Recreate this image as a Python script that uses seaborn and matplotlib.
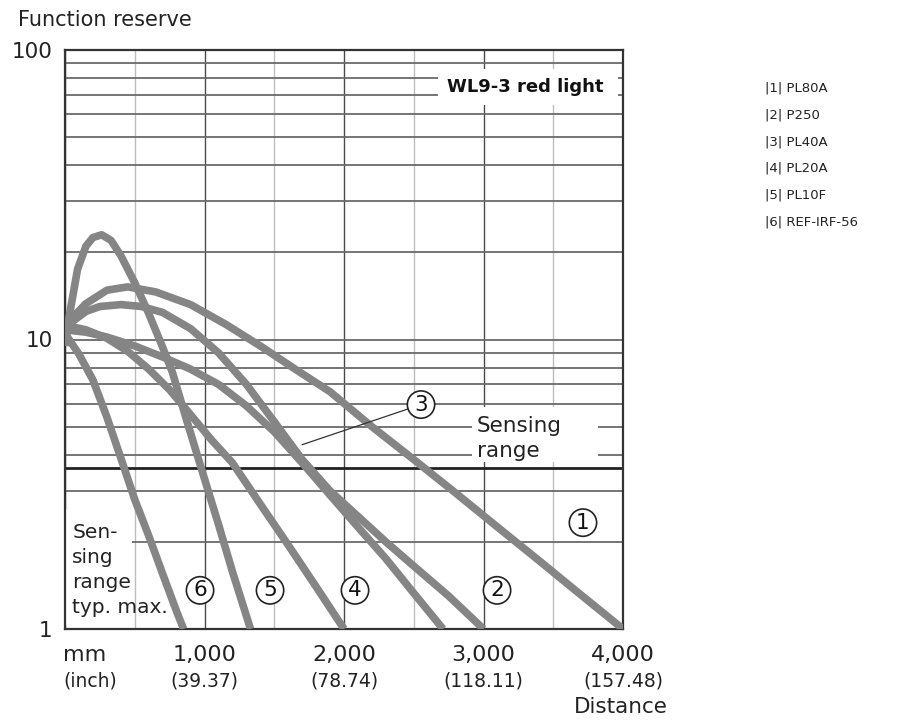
import numpy as np
import pandas as pd
import matplotlib
matplotlib.use("Agg")
import matplotlib.pyplot as plt
import seaborn as sns
from matplotlib.patches import Rectangle
from matplotlib.ticker import LogLocator, NullFormatter

# ---------------- data ----------------
series_names = ["PL80A", "P250", "PL40A", "PL20A", "PL10F", "REF-IRF-56"]
series_ids = ["1", "2", "3", "4", "5", "6"]

pl80a_x = [0, 60, 150, 300, 450, 650, 900, 1150, 1400, 1650, 1900, 2200, 2500, 2800, 3100, 3400, 3700, 4000]
pl80a_y = [11.0, 12.0, 13.3, 14.8, 15.2, 14.6, 13.2, 11.3, 9.5, 7.9, 6.6, 5.0, 3.85, 2.95, 2.25, 1.72, 1.31, 1.0]

p250_x = [0, 60, 150, 250, 400, 550, 700, 900, 1100, 1300, 1500, 1700, 1900, 2100, 2300, 2500, 2750, 3000]
p250_y = [10.5, 11.6, 12.5, 13.0, 13.2, 13.0, 12.4, 10.9, 9.0, 7.0, 5.2, 3.85, 3.0, 2.45, 2.0, 1.65, 1.3, 1.0]

pl40a_x = [0, 150, 300, 500, 700, 900, 1100, 1300, 1500, 1700, 1900, 2100, 2300, 2500, 2710]
pl40a_y = [10.8, 10.6, 10.2, 9.5, 8.7, 7.9, 7.0, 5.9, 4.8, 3.75, 2.9, 2.25, 1.75, 1.33, 1.0]

pl20a_x = [0, 150, 300, 450, 600, 750, 900, 1050, 1200, 1400, 1600, 1800, 2000]
pl20a_y = [11.2, 10.8, 10.1, 9.1, 7.9, 6.7, 5.5, 4.5, 3.75, 2.7, 1.95, 1.4, 1.0]

pl10f_x = [0, 30, 90, 150, 200, 263, 330, 400, 500, 600, 700, 770, 860, 980, 1100, 1200, 1330]
pl10f_y = [9.5, 12.0, 17.5, 21.0, 22.5, 23.0, 22.0, 19.5, 15.7, 12.3, 9.4, 7.7, 5.5, 3.55, 2.3, 1.58, 1.0]

refirf_x = [0, 100, 200, 300, 400, 500, 600, 700, 800, 850]
refirf_y = [10.5, 8.9, 7.25, 5.4, 3.9, 2.8, 2.1, 1.55, 1.15, 1.0]

sensing_range_level = 3.6

x_ticks = [0, 1000, 2000, 3000, 4000]
x_tick_mm = ["mm", "1,000", "2,000", "3,000", "4,000"]
x_tick_inch = ["(inch)", "(39.37)", "(78.74)", "(118.11)", "(157.48)"]
y_ticks = [1, 10, 100]
y_tick_labels = ["1", "10", "100"]

# circled-number label positions (distance, reserve)
label_pos_x = [3713, 3097, 2552, 2079, 1470, 968]
label_pos_y = [2.33, 1.36, 5.96, 1.36, 1.36, 1.36]

xs = [pl80a_x, p250_x, pl40a_x, pl20a_x, pl10f_x, refirf_x]
ys = [pl80a_y, p250_y, pl40a_y, pl20a_y, pl10f_y, refirf_y]
rows = []
for name, xx, yy in zip(series_names, xs, ys):
    for a, b in zip(xx, yy):
        rows.append((name, a, b))
df = pd.DataFrame(rows, columns=["series", "distance", "reserve"])

# ---------------- figure ----------------
sns.set_style("white")
plt.rcParams["font.family"] = ["DejaVu Sans"]

W, H = 897, 721
fig = plt.figure(figsize=(W / 100, H / 100), dpi=100)
ax = fig.add_axes([65 / W, 1 - 629 / H, (623 - 65) / W, (629 - 50) / H])

ax.set_yscale("log")
ax.set_xlim(0, 4000)
ax.set_ylim(1, 100)

# grid
ax.set_xticks(x_ticks)
ax.set_xticks([500, 1500, 2500, 3500], minor=True)
ax.set_xticklabels([])
ax.yaxis.set_minor_locator(LogLocator(base=10, subs=range(2, 10)))
ax.yaxis.set_minor_formatter(NullFormatter())
ax.set_yticks(y_ticks)
ax.set_yticklabels(y_tick_labels, fontsize=15.5, color="#222222")
ax.tick_params(which="both", length=0)
ax.tick_params(axis="y", pad=9)
ax.xaxis.grid(True, which="major", color="#4a4a4a", lw=1.0)
ax.xaxis.grid(True, which="minor", color="#bdbdbd", lw=1.0)
ax.yaxis.grid(True, which="both", color="#6a6a6a", lw=1.3)
ax.set_axisbelow(True)
for s in ax.spines.values():
    s.set_color("#333333")
    s.set_linewidth(1.6)

# curves
palette = {n: "#858585" for n in series_names}
sns.lineplot(data=df, x="distance", y="reserve", hue="series", palette=palette,
             estimator=None, sort=False, lw=5.5, legend=False, ax=ax, zorder=3)
for ln in ax.lines:
    ln.set_solid_capstyle("butt")
    ln.set_solid_joinstyle("round")
ax.set_xlabel("")
ax.set_ylabel("")

# sensing range line
ax.axhline(sensing_range_level, color="#222222", lw=2.0, zorder=2)

# white boxes covering grid for texts
ax.add_patch(Rectangle((2674, 64.5), 3964 - 2674, 86 - 64.5, fc="white", ec="none", zorder=1))
ax.text(3297, 74.5, "WL9-3 red light", fontsize=13, fontweight="bold", color="#111111",
        ha="center", va="center", zorder=4)

ax.add_patch(Rectangle((2918, 3.78), 3821 - 2918, 5.85 - 3.78, fc="white", ec="none", zorder=1))
ax.text(2950, 4.55, "Sensing\nrange", fontsize=15.5, color="#222222",
        ha="left", va="center", linespacing=1.3, zorder=4)

ax.add_patch(Rectangle((8, 1.03), 470, 2.6 - 1.03, fc="white", ec="none", zorder=1))
ax.text(52, 1.6, "Sen-\nsing\nrange\ntyp. max.", fontsize=14.5, color="#222222",
        ha="left", va="center", linespacing=1.4, zorder=2.5)

# circled numbers
for i, (lx, ly) in enumerate(zip(label_pos_x, label_pos_y)):
    bb = dict(boxstyle="circle,pad=0.17", fc="white", ec="#222222", lw=1.2)
    if series_ids[i] == "3":
        ax.annotate(series_ids[i], xy=(1699, 4.33), xytext=(lx, ly), fontsize=15.5,
                    ha="center", va="center", color="#111111", zorder=5, bbox=bb,
                    arrowprops=dict(arrowstyle="-", color="#333333", lw=0.9, shrinkA=0, shrinkB=0))
    else:
        ax.text(lx, ly, series_ids[i], fontsize=15.5, ha="center", va="center", color="#111111",
                zorder=5, bbox=bb)

# x tick labels (two lines)
xt = ax.get_xaxis_transform()
for i, (xv, m, inch) in enumerate(zip(x_ticks, x_tick_mm, x_tick_inch)):
    if i == 0:
        ax.text(xv - 15, -0.045, m, transform=xt, fontsize=16, ha="left", va="center", color="#222222")
        ax.text(xv - 15, -0.09, inch, transform=xt, fontsize=13.5, ha="left", va="center", color="#222222")
    else:
        ax.text(xv, -0.045, m, transform=xt, fontsize=16, ha="center", va="center", color="#222222")
        ax.text(xv, -0.09, inch, transform=xt, fontsize=13.5, ha="center", va="center", color="#222222")

fig.text(668 / W, 1 - 707 / H, "Distance", fontsize=15.5, ha="right", va="center", color="#222222")
fig.text(18 / W, 1 - 20 / H, "Function reserve", fontsize=15, ha="left", va="center", color="#222222")

# legend text on the right
for i, (sid, name) in enumerate(zip(series_ids, series_names)):
    fig.text(765 / W, 1 - (88 + 26.8 * i) / H, f"|{sid}| {name}", fontsize=9.5,
             ha="left", va="center", color="#222222")

fig.savefig("out.png", dpi=100, facecolor="white")
